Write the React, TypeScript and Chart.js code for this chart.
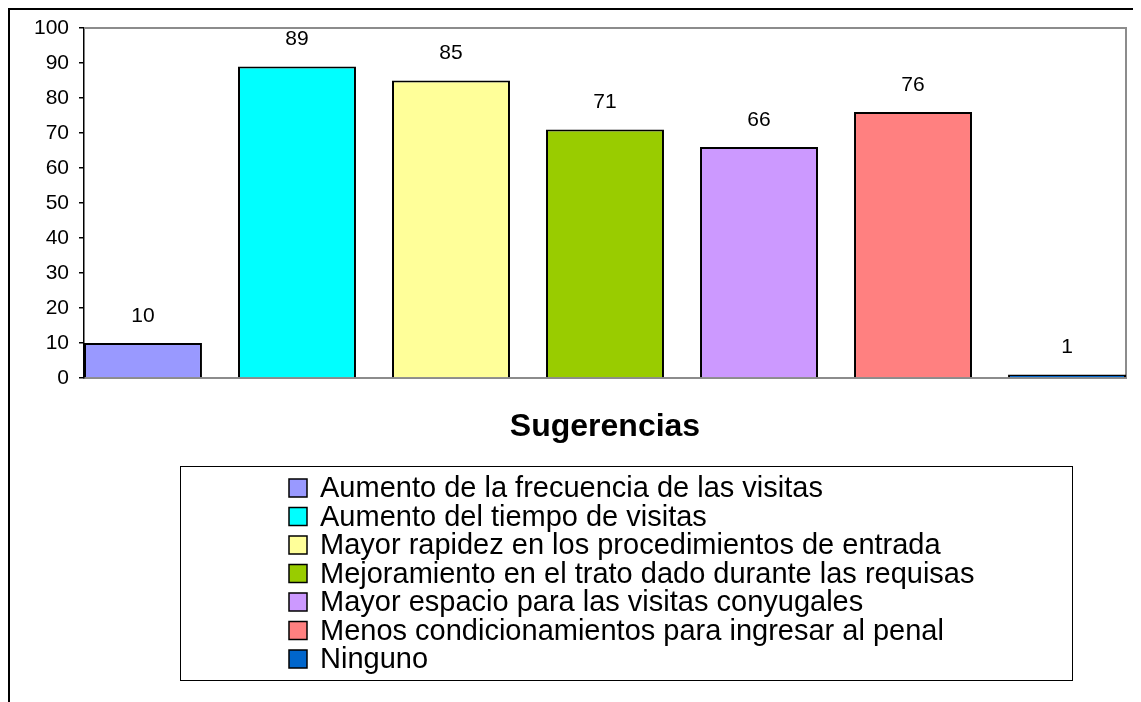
import React, { useEffect, useRef } from "react";
import { Chart, registerables } from "chart.js";

Chart.register(...registerables);

const seriesNames = [
  "Aumento de la frecuencia de las visitas",
  "Aumento del tiempo de visitas",
  "Mayor rapidez en los procedimientos de entrada",
  "Mejoramiento en el trato dado durante las requisas",
  "Mayor espacio para las visitas conyugales",
  "Menos condicionamientos para ingresar al penal",
  "Ninguno",
];
const seriesValues = [10, 89, 85, 71, 66, 76, 1];
const seriesColors = ["#9999FF", "#00FFFF", "#FFFF99", "#99CC00", "#CC99FF", "#FF8080", "#0066CC"];
const axisTitle = "Sugerencias";
const yMin = 0;
const yMax = 100;
const yStep = 10;

const FONT = "'Liberation Sans', Arial, sans-serif";
const BAR_PCT = 0.766;

const framePlugin = {
  id: "frame",
  beforeDatasetsDraw(chart: any) {
    const { ctx, chartArea: a } = chart;
    ctx.save();
    ctx.strokeStyle = "#8c8c8c";
    ctx.lineWidth = 2;
    ctx.beginPath();
    ctx.moveTo(a.left, a.top);
    ctx.lineTo(a.right, a.top);
    ctx.lineTo(a.right, a.bottom);
    ctx.stroke();
    ctx.restore();
  },
};

const valueLabelPlugin = {
  id: "valueLabels",
  afterDatasetsDraw(chart: any) {
    const { ctx } = chart;
    const meta = chart.getDatasetMeta(0);
    ctx.save();
    ctx.font = `21px ${FONT}`;
    ctx.fillStyle = "#000";
    ctx.textAlign = "center";
    ctx.textBaseline = "middle";
    meta.data.forEach((el: any, i: number) => {
      ctx.fillText(String(seriesValues[i]), el.x, el.y - 27);
    });
    ctx.restore();
  },
};

const legendPlugin = {
  id: "boxLegend",
  afterDraw(chart: any) {
    const { ctx } = chart;
    const box = { left: 170, top: 456, right: 1062, bottom: 670 };
    ctx.save();
    ctx.strokeStyle = "#000";
    ctx.lineWidth = 1;
    ctx.strokeRect(box.left + 0.5, box.top + 0.5, box.right - box.left, box.bottom - box.top);
    const markerX = 279;
    const textX = 310;
    const firstY = 478;
    const step = 28.5;
    ctx.font = `29px ${FONT}`;
    ctx.textBaseline = "middle";
    ctx.textAlign = "left";
    seriesNames.forEach((name, i) => {
      const cy = firstY + i * step;
      ctx.fillStyle = seriesColors[i];
      ctx.fillRect(markerX, cy - 9, 18, 18);
      ctx.strokeStyle = "#000";
      ctx.lineWidth = 1.5;
      ctx.strokeRect(markerX, cy - 9, 18, 18);
      ctx.fillStyle = "#000";
      ctx.fillText(name, textX, cy + 1);
    });
    ctx.restore();
  },
};

export default function App() {
  const ref = useRef<HTMLCanvasElement | null>(null);
  useEffect(() => {
    if (!ref.current) return;
    const chart = new Chart(ref.current, {
      type: "bar",
      data: {
        datasets: [
          {
            data: seriesValues.map((v, i) => ({ x: i, y: v })),
            backgroundColor: seriesColors,
            borderColor: "#000",
            borderWidth: 2,
            categoryPercentage: 1,
            barPercentage: BAR_PCT,
          },
        ],
      },
      options: {
        animation: false,
        responsive: true,
        maintainAspectRatio: false,
        layout: { padding: { top: 18, right: 15, bottom: 254, left: 0 } },
        plugins: { legend: { display: false }, tooltip: { enabled: false } },
        scales: {
          x: {
            type: "linear",
            offset: false,
            min: -BAR_PCT / 2,
            max: seriesValues.length - 1 + BAR_PCT / 2,
            ticks: { display: false },
            grid: { display: false },
            border: { display: true, color: "#8c8c8c", width: 2 },
            title: {
              display: true,
              text: axisTitle,
              color: "#000",
              font: { family: FONT, size: 32, weight: "bold" },
              padding: { top: 0, bottom: 2 },
            },
            afterBuildTicks: (s: any) => {
              s.ticks = seriesValues.map((_, i) => ({ value: i }));
            },
            afterFit: (s: any) => {
              s.height = 70;
              s.paddingLeft = 0;
              s.paddingRight = 0;
            },
          },
          y: {
            min: yMin,
            max: yMax,
            ticks: {
              stepSize: yStep,
              color: "#000",
              font: { family: FONT, size: 21 },
              padding: 10,
            },
            grid: {
              drawOnChartArea: false,
              drawTicks: true,
              tickLength: 5,
              color: "#000",
              lineWidth: 1.5,
            },
            border: { display: true, color: "#000", width: 1.5 },
            afterFit: (s: any) => {
              s.width = 74;
              s.paddingTop = 0;
              s.paddingBottom = 0;
            },
          },
        },
      },
      plugins: [framePlugin, valueLabelPlugin, legendPlugin],
    } as any);
    return () => chart.destroy();
  }, []);
  return (
    <div
      style={{
        position: "relative",
        width: 1131,
        height: 692,
        borderLeft: "2px solid #000",
        borderTop: "2px solid #000",
        background: "#fff",
      }}
    >
      <canvas ref={ref} />
    </div>
  );
}
